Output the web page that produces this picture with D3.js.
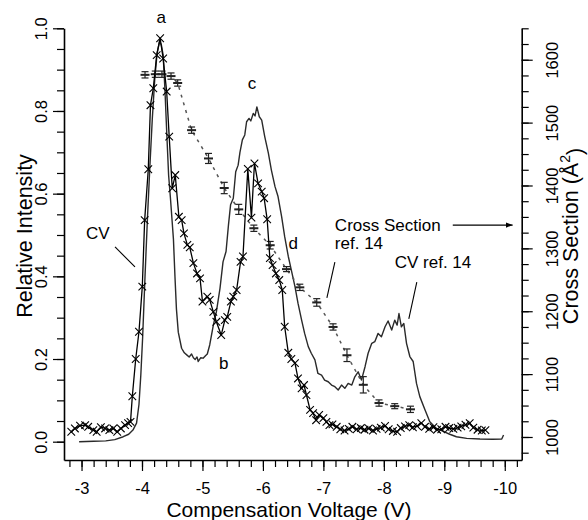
<!DOCTYPE html>
<html>
<head>
<meta charset="utf-8">
<script src="https://cdn.jsdelivr.net/npm/d3@7"></script>
<style>
  body { margin: 0; background: #fff; }
  svg { display: block; font-family: Arial, "Liberation Sans", Helvetica, sans-serif; }
</style>
</head>
<body>
<svg id="chart"></svg>
<script>
// CV (this work) - line with x markers, left axis
const cvVolts = [
  -2.83, -2.89, -2.975, -3.06, -3.11, -3.195, -3.25, -3.32, -3.39, -3.46, -3.525, -3.59, -3.65, -3.72, -3.77, -3.81,
  -3.84, -3.896, -3.95, -4.005, -4.044, -4.104, -4.14, -4.187, -4.243, -4.30, -4.35, -4.408, -4.45, -4.50, -4.55,
  -4.61, -4.656, -4.694, -4.75, -4.79, -4.85, -4.91, -4.96, -5.0, -5.08, -5.12, -5.18, -5.23, -5.31, -5.37, -5.41,
  -5.47, -5.51, -5.565, -5.63, -5.67, -5.75, -5.81, -5.86, -5.92, -5.98, -6.02, -6.07, -6.115, -6.16, -6.215, -6.27,
  -6.32, -6.36, -6.42, -6.47, -6.53, -6.58, -6.64, -6.68, -6.72, -6.78, -6.83, -6.88, -6.93, -7.0, -7.05, -7.1,
  -7.15, -7.22, -7.28, -7.35, -7.42, -7.48, -7.55, -7.62, -7.68, -7.75, -7.82, -7.88, -7.95, -8.02, -8.08, -8.15,
  -8.22, -8.28, -8.35, -8.42, -8.48, -8.55, -8.62, -8.68, -8.75, -8.82, -8.88, -8.95, -9.02, -9.08, -9.15, -9.22,
  -9.28, -9.35, -9.42, -9.48, -9.55, -9.62, -9.68
];
const cvIntensity = [
  0.024, 0.032, 0.039, 0.040, 0.036, 0.028, 0.024, 0.035, 0.032, 0.028, 0.032, 0.024, 0.032, 0.040, 0.045, 0.048,
  0.11, 0.20, 0.266, 0.375, 0.536, 0.659, 0.814, 0.855, 0.935, 0.976, 0.927, 0.847, 0.738, 0.613, 0.645,
  0.544, 0.536, 0.504, 0.476, 0.47, 0.432, 0.407, 0.395, 0.339, 0.351, 0.343, 0.314, 0.29, 0.258, 0.294, 0.302,
  0.339, 0.351, 0.367, 0.435, 0.448, 0.66, 0.542, 0.673, 0.625, 0.605, 0.589, 0.538, 0.444, 0.427, 0.407, 0.391,
  0.367, 0.278, 0.215, 0.20, 0.19, 0.153, 0.129, 0.137, 0.113, 0.077, 0.069, 0.052, 0.065, 0.057, 0.048, 0.040,
  0.042, 0.036, 0.030, 0.027, 0.031, 0.036, 0.030, 0.033, 0.029, 0.032, 0.027, 0.031, 0.034, 0.038, 0.030, 0.026,
  0.024, 0.033, 0.037, 0.040, 0.035, 0.038, 0.045, 0.036, 0.031, 0.035, 0.029, 0.030, 0.036, 0.033, 0.031, 0.034,
  0.037, 0.041, 0.045, 0.034, 0.029, 0.027, 0.028
];

// CV ref. 14 - plain line, left axis
const refVolts = [
  -2.96, -3.2, -3.4, -3.55, -3.69, -3.78, -3.85, -3.91, -3.95, -3.98, -4.01, -4.05, -4.09, -4.13, -4.17, -4.21,
  -4.25, -4.29, -4.32, -4.35, -4.38, -4.41, -4.44, -4.47, -4.52, -4.545, -4.57, -4.60, -4.655, -4.70, -4.74, -4.78,
  -4.82, -4.85, -4.88, -4.91, -4.93, -4.97, -5.01, -5.05, -5.08, -5.12, -5.18, -5.23, -5.29, -5.34, -5.39, -5.43,
  -5.465, -5.51, -5.55, -5.59, -5.62, -5.66, -5.70, -5.73, -5.77, -5.80, -5.84, -5.87, -5.90, -5.94, -5.98, -6.03,
  -6.09, -6.14, -6.20, -6.25, -6.31, -6.36, -6.42, -6.47, -6.53, -6.58, -6.64, -6.69, -6.75, -6.80, -6.86, -6.91,
  -6.97, -7.02, -7.08, -7.135, -7.19, -7.245, -7.30, -7.355, -7.41, -7.47, -7.52, -7.575, -7.63, -7.69, -7.74, -7.80,
  -7.85, -7.905, -7.96, -8.02, -8.07, -8.13, -8.18, -8.22, -8.25, -8.29, -8.33, -8.375, -8.43, -8.485, -8.54, -8.595,
  -8.68, -8.76, -8.87, -9.0, -9.09, -9.2, -9.37, -9.59, -9.8, -9.95, -9.98
];
const refIntensity = [
  0.0, 0.001, 0.002, 0.005, 0.012, 0.018, 0.028, 0.045, 0.09, 0.16, 0.25, 0.40, 0.54, 0.665, 0.78, 0.875,
  0.94, 0.968, 0.96, 0.935, 0.85, 0.745, 0.645, 0.59, 0.49, 0.40, 0.32, 0.265, 0.226, 0.215, 0.21, 0.205,
  0.212, 0.203, 0.199, 0.205, 0.194, 0.203, 0.202, 0.208, 0.212, 0.234, 0.282, 0.314, 0.371, 0.435, 0.46, 0.524,
  0.573, 0.589, 0.653, 0.669, 0.70, 0.73, 0.742, 0.774, 0.782, 0.776, 0.794, 0.788, 0.81, 0.786, 0.778, 0.738,
  0.698, 0.657, 0.617, 0.593, 0.544, 0.496, 0.448, 0.415, 0.375, 0.335, 0.294, 0.262, 0.23, 0.214, 0.198, 0.165,
  0.161, 0.149, 0.145, 0.137, 0.133, 0.125, 0.137, 0.129, 0.141, 0.137, 0.157, 0.169, 0.149, 0.182, 0.214, 0.238,
  0.242, 0.262, 0.254, 0.278, 0.292, 0.270, 0.294, 0.282, 0.31, 0.278, 0.286, 0.238, 0.206, 0.194, 0.141, 0.109,
  0.077, 0.048, 0.032, 0.024, 0.018, 0.012, 0.008, 0.0066, 0.006, 0.0066, 0.016
];

// Cross Section ref. 14 - right axis, with error bars
const csVolts = [-4.05, -4.22, -4.33, -4.48, -4.59, -4.82, -5.10, -5.36, -5.60, -5.85, -6.12, -6.39, -6.61, -6.89, -7.16, -7.39, -7.66, -7.92, -8.18, -8.44];
const csValues = [1576, 1577, 1577, 1574, 1563, 1488, 1443, 1396, 1362, 1332, 1305, 1267, 1238, 1214, 1175, 1130, 1083, 1054, 1049, 1044];
const csErrors = [5, 5, 5, 5, 5, 5, 8, 9, 8, 5, 6, 4, 5, 6, 5, 10, 13, 5, 4, 5];

// tick labels
const xTicks = [-3, -4, -5, -6, -7, -8, -9, -10];
const leftTicks = [0.0, 0.2, 0.4, 0.6, 0.8, 1.0];
const rightTicks = [1000, 1100, 1200, 1300, 1400, 1500, 1600];

// text labels, placed in data units (left axis)
const notes = [
  { text: 'a', v: -4.32, i: 1.027, anchor: 'middle' },
  { text: 'c', v: -5.82, i: 0.868, anchor: 'middle' },
  { text: 'b', v: -5.35, i: 0.19, anchor: 'middle' },
  { text: 'd', v: -6.50, i: 0.48, anchor: 'middle' },
  { text: 'CV', v: -3.27, i: 0.505, anchor: 'middle' },
  { text: 'Cross Section', v: -7.19, i: 0.524, anchor: 'start' },
  { text: 'ref. 14', v: -7.19, i: 0.48, anchor: 'start' },
  { text: 'CV ref. 14', v: -8.18, i: 0.435, anchor: 'start' }
];
const leaders = [
  { v1: -3.554, i1: 0.471, v2: -3.884, i2: 0.423 },
  { v1: -7.19, i1: 0.4346, v2: -7.058, i2: 0.3476 },
  { v1: -8.545, i1: 0.386, v2: -8.413, i2: 0.297 }
];
const arrowFrom = { v: -9.14, i: 0.524 };
const arrowTo = { v: -10.13, i: 0.524 };

const width = 588;
const height = 520;
const margin = { top: 28.3, right: 66.3, bottom: 60, left: 64 };

const x = d3.scaleLinear().domain([-2.71, -10.28]).range([margin.left, width - margin.right]);
const yL = d3.scaleLinear().domain([-0.0443, 1.0]).range([height - margin.bottom, margin.top]);
const yR = d3.scaleLinear().domain([963.4, 1650]).range([height - margin.bottom, margin.top]);

const svg = d3.select('#chart').attr('width', width).attr('height', height);

const tickFont = '16.5px';
const r = v => Math.round(v * 1000) / 1000;

// minor ticks
const xMinor = d3.range(-2.8, -10.21, -0.2).map(r);
const leftMinor = d3.range(0, 1.001, 0.05).map(r);
const rightMinor = d3.range(975, 1651, 25);

function plainTicks(g) {
  g.select('.domain').remove();
  g.selectAll('.tick line').attr('stroke', '#000').attr('stroke-width', 1.2);
}

// bottom axis
svg.append('g')
  .attr('transform', `translate(0,${yL.range()[0]})`)
  .call(d3.axisBottom(x).tickValues(xMinor).tickSize(7).tickFormat(''))
  .call(plainTicks);

svg.append('g')
  .attr('transform', `translate(0,${yL.range()[0]})`)
  .call(d3.axisBottom(x).tickValues(xTicks).tickSize(11).tickSizeOuter(0).tickFormat(d => String(d)))
  .call(g => {
    g.select('.domain').attr('stroke', '#000').attr('stroke-width', 1.6);
    g.selectAll('.tick line').attr('stroke', '#000').attr('stroke-width', 1.2);
    g.selectAll('.tick text').attr('y', 33.5).attr('dy', 0)
      .style('font-size', tickFont).style('font-family', 'Arial, "Liberation Sans", sans-serif').attr('fill', '#000');
  });

// left axis
svg.append('g')
  .attr('transform', `translate(${margin.left},0)`)
  .call(d3.axisLeft(yL).tickValues(leftMinor).tickSize(7).tickFormat(''))
  .call(plainTicks);

svg.append('g')
  .attr('transform', `translate(${margin.left},0)`)
  .call(d3.axisLeft(yL).tickValues(leftTicks).tickSize(11).tickSizeOuter(0).tickFormat(d3.format('.1f')))
  .call(g => {
    g.select('.domain').attr('stroke', '#000').attr('stroke-width', 1.6);
    g.selectAll('.tick line').attr('stroke', '#000').attr('stroke-width', 1.2);
    g.selectAll('.tick text')
      .attr('transform', 'rotate(-90)')
      .attr('x', 0).attr('y', -17).attr('dy', 0)
      .attr('text-anchor', 'middle')
      .style('font-size', tickFont).style('font-family', 'Arial, "Liberation Sans", sans-serif').attr('fill', '#000');
  });

// right axis
svg.append('g')
  .attr('transform', `translate(${width - margin.right},0)`)
  .call(d3.axisRight(yR).tickValues(rightMinor).tickSize(7).tickFormat(''))
  .call(plainTicks);

svg.append('g')
  .attr('transform', `translate(${width - margin.right},0)`)
  .call(d3.axisRight(yR).tickValues(rightTicks).tickSize(11).tickSizeOuter(0).tickFormat(d3.format('d')))
  .call(g => {
    g.select('.domain').attr('stroke', '#000').attr('stroke-width', 1.6);
    g.selectAll('.tick line').attr('stroke', '#000').attr('stroke-width', 1.2);
    g.selectAll('.tick text')
      .attr('transform', 'rotate(-90)')
      .attr('x', 0).attr('y', 36).attr('dy', 0)
      .attr('text-anchor', 'middle')
      .style('font-size', tickFont).style('font-family', 'Arial, "Liberation Sans", sans-serif').attr('fill', '#000');
  });

// axis titles
const titleFont = '21px';
svg.append('text')
  .attr('x', 289).attr('y', 516.5)
  .attr('text-anchor', 'middle')
  .style('font-size', titleFont)
  .text('Compensation Voltage (V)');

svg.append('text')
  .attr('transform', 'translate(32,236) rotate(-90)')
  .attr('text-anchor', 'middle')
  .style('font-size', '21.5px')
  .text('Relative Intensity');

const rt = svg.append('text')
  .attr('transform', 'translate(578,236) rotate(-90)')
  .attr('text-anchor', 'middle')
  .style('font-size', '21.5px');
rt.append('tspan').text('Cross Section (Å');
rt.append('tspan').attr('dy', '-0.55em').style('font-size', '14px').text('2');
rt.append('tspan').attr('dy', '0.55em').text(')');

// CV ref. 14 line
const refData = d3.zip(refVolts, refIntensity);
svg.append('path')
  .datum(refData)
  .attr('fill', 'none')
  .attr('stroke', '#2a2a2a')
  .attr('stroke-width', 1.4)
  .attr('stroke-linejoin', 'round')
  .attr('d', d3.line().x(d => x(d[0])).y(d => yL(d[1])));

// Cross section dashed line + error bars
const csData = csVolts.map((v, i) => ({ v, cs: csValues[i], err: csErrors[i] }));
svg.append('path')
  .datum(csData)
  .attr('fill', 'none')
  .attr('stroke', '#555')
  .attr('stroke-width', 1.5)
  .attr('stroke-dasharray', '3,5')
  .attr('d', d3.line().x(d => x(d.v)).y(d => yR(d.cs)));

const eb = svg.append('g').attr('stroke', '#222');
eb.selectAll('line.bar').data(csData).join('line')
  .attr('class', 'bar')
  .attr('x1', d => x(d.v)).attr('x2', d => x(d.v))
  .attr('y1', d => yR(d.cs - d.err)).attr('y2', d => yR(d.cs + d.err))
  .attr('stroke-width', 1.2);
eb.selectAll('line.capT').data(csData).join('line')
  .attr('class', 'capT')
  .attr('x1', d => x(d.v) - 3.5).attr('x2', d => x(d.v) + 3.5)
  .attr('y1', d => yR(d.cs + d.err)).attr('y2', d => yR(d.cs + d.err))
  .attr('stroke-width', 1.2);
eb.selectAll('line.capB').data(csData).join('line')
  .attr('class', 'capB')
  .attr('x1', d => x(d.v) - 3.5).attr('x2', d => x(d.v) + 3.5)
  .attr('y1', d => yR(d.cs - d.err)).attr('y2', d => yR(d.cs - d.err))
  .attr('stroke-width', 1.2);
eb.selectAll('line.mid').data(csData).join('line')
  .attr('class', 'mid')
  .attr('x1', d => x(d.v) - 4.5).attr('x2', d => x(d.v) + 4.5)
  .attr('y1', d => yR(d.cs)).attr('y2', d => yR(d.cs))
  .attr('stroke-width', 2);

// CV line with x markers
const cvData = d3.zip(cvVolts, cvIntensity);
svg.append('path')
  .datum(cvData)
  .attr('fill', 'none')
  .attr('stroke', '#000')
  .attr('stroke-width', 1.3)
  .attr('stroke-linejoin', 'round')
  .attr('d', d3.line().x(d => x(d[0])).y(d => yL(d[1])));

const s = 3.8;
svg.append('g')
  .selectAll('path')
  .data(cvData)
  .join('path')
  .attr('transform', d => `translate(${x(d[0])},${yL(d[1])})`)
  .attr('d', `M${-s},${-s}L${s},${s}M${-s},${s}L${s},${-s}`)
  .attr('stroke', '#000')
  .attr('stroke-width', 1.1)
  .attr('fill', 'none');

// annotations
svg.append('g')
  .selectAll('text')
  .data(notes)
  .join('text')
  .attr('x', d => x(d.v))
  .attr('y', d => yL(d.i))
  .attr('dy', '0.35em')
  .attr('text-anchor', d => d.anchor)
  .style('font-size', '17px')
  .text(d => d.text);

svg.append('g')
  .selectAll('line')
  .data(leaders)
  .join('line')
  .attr('x1', d => x(d.v1)).attr('y1', d => yL(d.i1))
  .attr('x2', d => x(d.v2)).attr('y2', d => yL(d.i2))
  .attr('stroke', '#000')
  .attr('stroke-width', 1.1);

// arrow from "Cross Section" to the right axis
svg.append('defs').append('marker')
  .attr('id', 'arrow')
  .attr('viewBox', '0 0 10 10')
  .attr('refX', 10).attr('refY', 5)
  .attr('markerWidth', 7).attr('markerHeight', 7)
  .attr('markerUnits', 'userSpaceOnUse')
  .attr('orient', 'auto')
  .append('path')
  .attr('d', 'M0,1L10,5L0,9Z')
  .attr('fill', '#000');

svg.append('line')
  .attr('x1', x(arrowFrom.v)).attr('x2', x(arrowTo.v))
  .attr('y1', yL(arrowFrom.i)).attr('y2', yL(arrowTo.i))
  .attr('stroke', '#000')
  .attr('stroke-width', 1.2)
  .attr('marker-end', 'url(#arrow)');
</script>
</body>
</html>
